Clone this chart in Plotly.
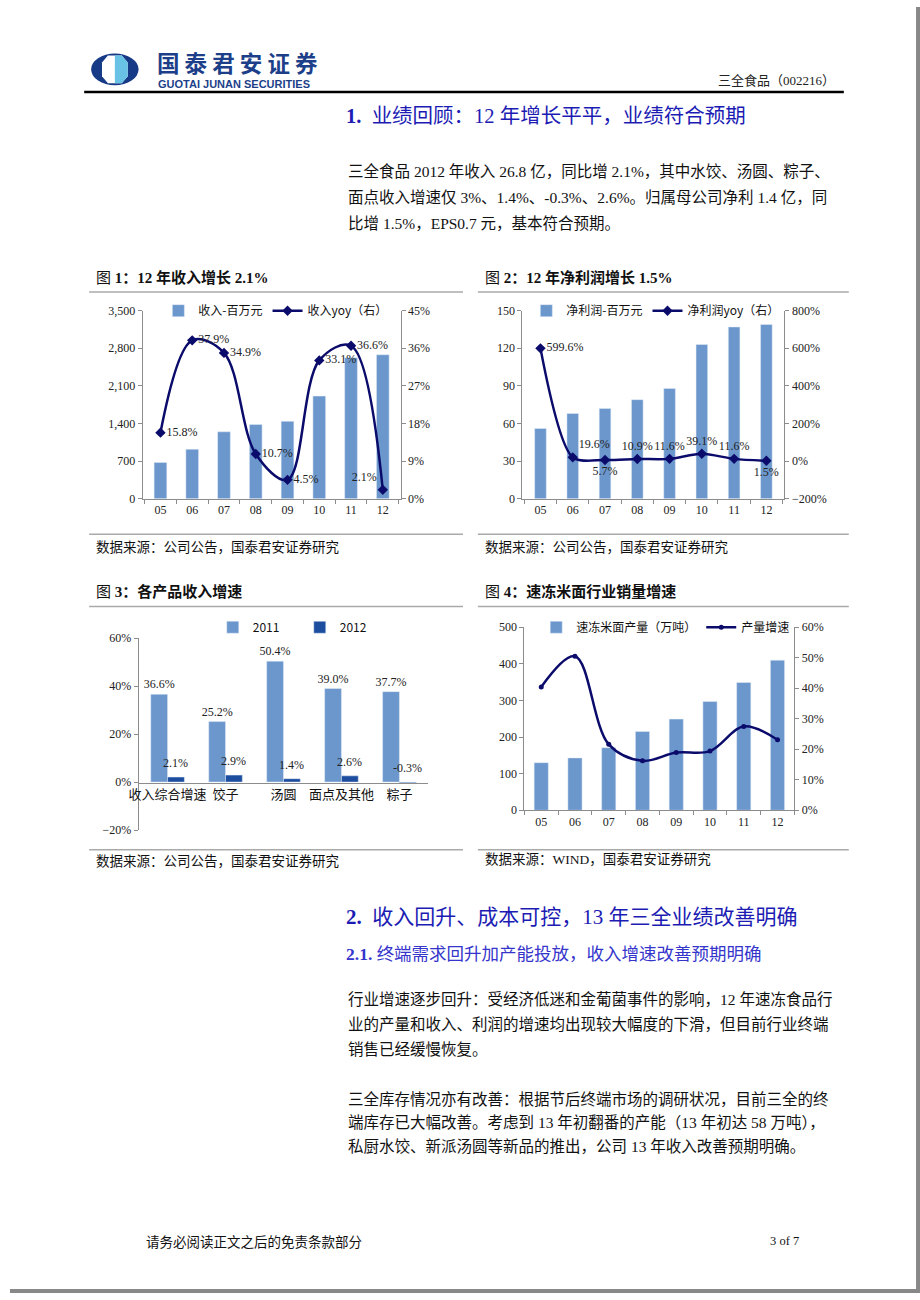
import plotly.graph_objects as go

W, H = 920, 1300
def px(x): return x / W
def py(y): return 1 - y / H

# ---------------- data ----------------
years = ["05", "06", "07", "08", "09", "10", "11", "12"]

rev = [675, 920, 1245, 1380, 1440, 1910, 2625, 2680]
rev_yoy = [15.8, 37.9, 34.9, 10.7, 4.5, 33.1, 36.6, 2.1]

profit = [56, 68, 72, 79, 88, 123, 137, 139]
profit_yoy = [599.6, 19.6, 5.7, 10.9, 11.6, 39.1, 11.6, 1.5]

products = ["收入综合增速", "饺子", "汤圆", "面点及其他", "粽子"]
growth_2011 = [36.6, 25.2, 50.4, 39.0, 37.7]
growth_2012 = [2.1, 2.9, 1.4, 2.6, -0.3]

output_vol = [130, 143, 171, 215, 249, 297, 349, 410]
output_growth = [40.4, 50.5, 21.6, 16.2, 18.9, 19.4, 27.5, 23.1]

# ---------------- style ----------------
BAR = "#6b97cd"
BAR_DARK = "#1c4d9f"
LINE = "#0b0b6b"
AX = "#8c8c8c"
SERIF = "Liberation Serif, Noto Sans CJK SC"
CJK = "Noto Sans CJK SC, Liberation Serif"
BLUE_H = "#1c1cb4"
BLUE_H2 = "#3535cc"

fig = go.Figure()

# Chart 1
fig.add_trace(go.Bar(x=years, y=rev, name="收入-百万元", marker_color=BAR, width=0.4,
                     xaxis="x", yaxis="y", legend="legend"))
fig.add_trace(go.Scatter(x=years, y=rev_yoy, name="收入yoy（右）", mode="lines+markers+text",
                         line=dict(color=LINE, width=2.5, shape="spline", smoothing=1.0),
                         marker=dict(symbol="diamond", size=8, color=LINE),
                         text=[f"{v:.1f}%" for v in rev_yoy],
                         textposition=["middle right"] * 7 + ["top left"],
                         textfont=dict(size=12, family=SERIF, color="#222"),
                         cliponaxis=False, xaxis="x", yaxis="y2", legend="legend"))

# Chart 2
fig.add_trace(go.Bar(x=years, y=profit, name="净利润-百万元", marker_color=BAR, width=0.36,
                     xaxis="x2", yaxis="y3", legend="legend2"))
fig.add_trace(go.Scatter(x=years, y=profit_yoy, name="净利润yoy（右）", mode="lines+markers+text",
                         line=dict(color=LINE, width=2.5, shape="spline", smoothing=0.8),
                         marker=dict(symbol="diamond", size=8, color=LINE),
                         text=[f"{v:.1f}%" for v in profit_yoy],
                         textposition=["middle right", "top right", "bottom center", "top center",
                                       "top center", "top center", "top center", "bottom center"],
                         textfont=dict(size=12, family=SERIF, color="#222"),
                         cliponaxis=False, xaxis="x2", yaxis="y4", legend="legend2"))

# Chart 3
fig.add_trace(go.Bar(x=products, y=growth_2011, name="2011", marker_color=BAR, width=0.29, offset=-0.29,
                     text=[f"{v:.1f}%" for v in growth_2011], textposition="outside",
                     textfont=dict(size=12, family=SERIF, color="#222"), constraintext="none",
                     cliponaxis=False, xaxis="x3", yaxis="y5", legend="legend3"))
fig.add_trace(go.Bar(x=products, y=growth_2012, name="2012", marker_color=BAR_DARK, width=0.29, offset=0,
                     xaxis="x3", yaxis="y5", legend="legend3"))

# Chart 4
fig.add_trace(go.Bar(x=years, y=output_vol, name="速冻米面产量（万吨）", marker_color=BAR, width=0.42,
                     xaxis="x4", yaxis="y6", legend="legend4"))
fig.add_trace(go.Scatter(x=years, y=output_growth, name="产量增速", mode="lines+markers",
                         line=dict(color=LINE, width=2.5, shape="spline", smoothing=1.0),
                         marker=dict(symbol="circle", size=5, color=LINE),
                         xaxis="x4", yaxis="y7", legend="legend4"))

tickfont = dict(size=12, family=SERIF, color="#222")
def axstyle(**kw):
    d = dict(showline=True, linecolor=AX, linewidth=1, ticks="outside", ticklen=4, tickcolor=AX,
             showgrid=False, zeroline=False, tickfont=tickfont, fixedrange=True)
    d.update(kw)
    return d

layout = dict(
    width=W, height=H, margin=dict(l=0, r=0, t=0, b=0),
    paper_bgcolor="white", plot_bgcolor="rgba(0,0,0,0)",
    barmode="group", showlegend=True,
    # chart 1
    xaxis=axstyle(domain=[px(134), px(395)], anchor="y", type="category", tickson="boundaries"),
    yaxis=axstyle(domain=[py(497), py(307)], anchor="x", range=[0, 3500], dtick=700, tickformat=","),
    yaxis2=axstyle(overlaying="y", side="right", anchor="x", range=[0, 45], dtick=9, ticksuffix="%"),
    # chart 2
    xaxis2=axstyle(domain=[px(518), px(783)], anchor="y3", type="category", tickson="boundaries"),
    yaxis3=axstyle(domain=[py(497), py(307)], anchor="x2", range=[0, 150], dtick=30),
    yaxis4=axstyle(overlaying="y3", side="right", anchor="x2", range=[-200, 800], dtick=200, ticksuffix="%"),
    # chart 3
    xaxis3=axstyle(domain=[px(130), px(423)], anchor="free", position=py(784), type="category",
                   ticks="", tickfont=dict(size=13, family=CJK, color="#111")),
    yaxis5=axstyle(domain=[py(832), py(638)], anchor="x3", range=[-20, 60], dtick=20, ticksuffix="%"),
    # chart 4
    xaxis4=axstyle(domain=[px(520), px(793)], anchor="y6", type="category", tickson="boundaries"),
    yaxis6=axstyle(domain=[py(812), py(627)], anchor="x4", range=[0, 500], dtick=100),
    yaxis7=axstyle(overlaying="y6", side="right", anchor="x4", range=[0, 60], dtick=10, ticksuffix="%"),
)

legfont = dict(size=12, family=CJK, color="#111")
def leg(x, y, **kw):
    d = dict(x=px(x), y=py(y), xanchor="left", yanchor="middle", orientation="h",
             bgcolor="rgba(0,0,0,0)", font=legfont, itemclick=False, itemdoubleclick=False,
             tracegroupgap=0)
    d.update(kw)
    return d

layout["legend"] = leg(150, 307)
layout["legend2"] = leg(522, 307)
layout["legend3"] = leg(205, 627, entrywidth=42)
layout["legend4"] = leg(532, 627)

fig.update_layout(**layout)

# ---------------- annotations ----------------
ann = []
def text(x, y, s, size=15, color="#111", family=CJK, xanchor="left"):
    ann.append(dict(x=px(x), y=py(y), xref="paper", yref="paper", text=s, showarrow=False,
                    xanchor=xanchor, yanchor="middle", font=dict(size=size, color=color, family=family)))

# chart 3 labels for 2012 series
for i, v in enumerate(growth_2012):
    ann.append(dict(x=i + 0.145, y=max(v, 0), xref="x3", yref="y5", text=f"{v:.1f}%", showarrow=False,
                    yanchor="bottom", yshift=5, font=dict(size=12, family=SERIF, color="#222")))

# header
text(147, 56, "<b>国 泰 君 安 证 券</b>", size=22.5, color="#1d3f8a")
text(148, 77.5, "<b>GUOTAI JUNAN SECURITIES</b>", size=11, color="#1d3f8a", family="Liberation Sans")
text(836, 74, "三全食品（002216）", size=13, color="#222", family=SERIF, xanchor="right")

text(338, 110, "<b>1.</b>  业绩回顾：12 年增长平平，业绩符合预期", size=20.5, color=BLUE_H, family=SERIF)

para1 = ["三全食品 2012 年收入 26.8 亿，同比增 2.1%，其中水饺、汤圆、粽子、",
         "面点收入增速仅 3%、1.4%、-0.3%、2.6%。归属母公司净利 1.4 亿，同",
         "比增 1.5%，EPS0.7 元，基本符合预期。"]
for i, s in enumerate(para1):
    text(340, 166 + i * 26.5, s, size=15.5, family=SERIF)

# chart titles & sources
text(85, 273, "图 <b>1：12 年收入增长 2.1%</b>", size=15, family=SERIF)
text(478, 273, "图 <b>2：12 年净利润增长 1.5%</b>", size=15, family=SERIF)
text(85, 591, "图 <b>3：各产品收入增速</b>", size=15, family=SERIF)
text(478, 591, "图 <b>4：速冻米面行业销量增速</b>", size=15, family=SERIF)
text(85, 545, "数据来源：公司公告，国泰君安证券研究", size=13.5)
text(478, 545, "数据来源：公司公告，国泰君安证券研究", size=13.5)
text(85, 862, "数据来源：公司公告，国泰君安证券研究", size=13.5)
text(478, 862, "数据来源：WIND，国泰君安证券研究", size=13.5, family=SERIF)

# section 2
text(338, 920, "<b>2.</b>  收入回升、成本可控，13 年三全业绩改善明确", size=21, color=BLUE_H, family=SERIF)
text(338, 957, "<b>2.1.</b> 终端需求回升加产能投放，收入增速改善预期明确", size=17.5, color=BLUE_H2, family=SERIF)

para2 = ["行业增速逐步回升：受经济低迷和金葡菌事件的影响，12 年速冻食品行",
         "业的产量和收入、利润的增速均出现较大幅度的下滑，但目前行业终端",
         "销售已经缓慢恢复。"]
para3 = ["三全库存情况亦有改善：根据节后终端市场的调研状况，目前三全的终",
         "端库存已大幅改善。考虑到 13 年初翻番的产能（13 年初达 58 万吨），",
         "私厨水饺、新派汤圆等新品的推出，公司 13 年收入改善预期明确。"]
for i, s in enumerate(para2):
    text(340, 1003 + i * 25.5, s, size=15.5, family=SERIF)
for i, s in enumerate(para3):
    text(340, 1104 + i * 24, s, size=15.5, family=SERIF)

# footer
text(135, 1247, "请务必阅读正文之后的免责条款部分", size=13.5)
text(800, 1247, "3 of 7", size=12.5, family=SERIF, xanchor="right")

fig.update_layout(annotations=ann)

# ---------------- shapes ----------------
shapes = []
def hline(x0, x1, y, color="#aaaaaa", width=1.5):
    shapes.append(dict(type="line", xref="paper", yref="paper", x0=px(x0), x1=px(x1), y0=py(y), y1=py(y),
                       line=dict(color=color, width=width)))

hline(75, 843, 86, color="#000", width=2.5)
hline(80, 458, 288)
hline(473, 848, 288)
hline(80, 458, 533)
hline(473, 848, 533)
hline(80, 458, 606)
hline(473, 848, 606)
hline(80, 458, 852)
hline(473, 848, 852)

# page border
shapes.append(dict(type="rect", xref="paper", yref="paper", x0=px(916), x1=1, y0=0, y1=1,
                   fillcolor="#888", line=dict(width=0)))
shapes.append(dict(type="rect", xref="paper", yref="paper", x0=0, x1=1, y0=0, y1=py(1296),
                   fillcolor="#888", line=dict(width=0)))

# logo
shapes.append(dict(type="circle", xref="paper", yref="paper", x0=px(82), x1=px(130), y0=py(79), y1=py(47),
                   fillcolor="#173a86", line=dict(width=0)))
def path(pts):
    return "M " + " L ".join(f"{px(a)},{py(b)}" for a, b in pts) + " Z"
shapes.append(dict(type="path", xref="paper", yref="paper",
                   path=path([(99, 49), (113, 49), (119, 56), (119, 70), (113, 77), (99, 77), (93, 70), (93, 56)]),
                   fillcolor="white", line=dict(width=0)))
shapes.append(dict(type="path", xref="paper", yref="paper",
                   path=path([(106, 49), (113, 49), (119, 56), (119, 70), (113, 77), (106, 77)]),
                   fillcolor="#67c2e6", line=dict(width=0)))

fig.update_layout(shapes=shapes)

fig.write_html("out.html", config={"displayModeBar": False},
               post_script="document.body.style.margin='0';document.body.style.overflow='hidden';")
